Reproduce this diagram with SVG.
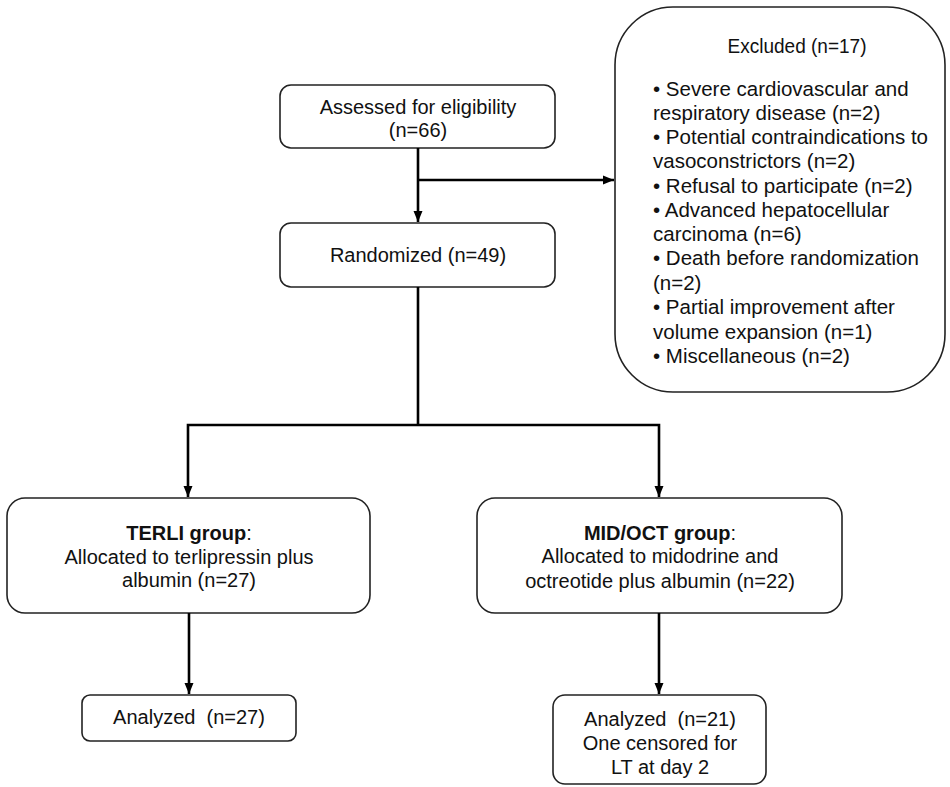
<svg xmlns="http://www.w3.org/2000/svg" width="950" height="787" viewBox="0 0 950 787">
<defs>
<marker id="ah" markerUnits="userSpaceOnUse" markerWidth="12" markerHeight="12" viewBox="0 0 12 12" refX="11" refY="6" orient="auto">
<path d="M0,1.5 L11,6 L0,10.5 Z" fill="#000"/>
</marker>
<style>
.box{fill:#fff;stroke:#222;stroke-width:1.6}
.t{font-family:"Liberation Sans",Arial,sans-serif;font-size:20px;fill:#111;text-anchor:middle;white-space:pre}
.l{font-family:"Liberation Sans",Arial,sans-serif;font-size:20.5px;fill:#111;text-anchor:start}
.b{font-weight:bold}
.c{fill:none;stroke:#000;stroke-width:2.6;stroke-linejoin:miter}
</style>
</defs>
<rect width="950" height="787" fill="#fff"/>
<g id="assessed">
<rect class="box" x="280" y="85" width="275" height="63" rx="11"/>
<text class="t" x="418" y="114">Assessed for eligibility</text>
<text class="t" x="418" y="137">(n=66)</text>
</g>
<g id="randomized">
<rect class="box" x="280" y="223" width="275" height="64" rx="11"/>
<text class="t" x="418" y="262">Randomized (n=49)</text>
</g>
<g id="excluded">
<rect class="box" x="615" y="7" width="330" height="385" rx="58"/>
<text class="t" x="797" y="53" textLength="139" lengthAdjust="spacingAndGlyphs">Excluded (n=17)</text>
<text class="l" x="653" y="96">• Severe cardiovascular and</text>
<text class="l" x="653" y="120">respiratory disease (n=2)</text>
<text class="l" x="653" y="144">• Potential contraindications to</text>
<text class="l" x="653" y="168">vasoconstrictors (n=2)</text>
<text class="l" x="653" y="193">• Refusal to participate (n=2)</text>
<text class="l" x="653" y="217">• Advanced hepatocellular</text>
<text class="l" x="653" y="241">carcinoma (n=6)</text>
<text class="l" x="653" y="265">• Death before randomization</text>
<text class="l" x="653" y="290">(n=2)</text>
<text class="l" x="653" y="314">• Partial improvement after</text>
<text class="l" x="653" y="339">volume expansion (n=1)</text>
<text class="l" x="653" y="363">• Miscellaneous (n=2)</text>
</g>
<g id="terli">
<rect class="box" x="7" y="498" width="363" height="115" rx="18"/>
<text class="t" x="189" y="540"><tspan class="b">TERLI group</tspan>:</text>
<text class="t" x="189" y="564">Allocated to terlipressin plus</text>
<text class="t" x="189" y="587">albumin (n=27)</text>
</g>
<g id="midoct">
<rect class="box" x="477" y="498" width="365" height="115" rx="18"/>
<text class="t" x="660" y="540"><tspan class="b">MID/OCT group</tspan>:</text>
<text class="t" x="660" y="563">Allocated to midodrine and</text>
<text class="t" x="660" y="588">octreotide plus albumin (n=22)</text>
</g>
<g id="analyzed-terli">
<rect class="box" x="82" y="695" width="214" height="46" rx="8"/>
<text class="t" x="189" y="724">Analyzed  (n=27)</text>
</g>
<g id="analyzed-midoct">
<rect class="box" x="553" y="695" width="213" height="89" rx="12"/>
<text class="t" x="660" y="726">Analyzed  (n=21)</text>
<text class="t" x="660" y="750">One censored for</text>
<text class="t" x="660" y="774">LT at day 2</text>
</g>
<g id="connectors">
<line class="c" x1="418" y1="148" x2="418" y2="222" marker-end="url(#ah)"/>
<line class="c" x1="418" y1="180" x2="614" y2="180" marker-end="url(#ah)"/>
<line class="c" x1="418" y1="287" x2="418" y2="425"/>
<path class="c" d="M418,425 H188 V497" marker-end="url(#ah)"/>
<path class="c" d="M418,425 H659 V497" marker-end="url(#ah)"/>
<line class="c" x1="189" y1="613" x2="189" y2="694" marker-end="url(#ah)"/>
<line class="c" x1="659" y1="613" x2="659" y2="694" marker-end="url(#ah)"/>
</g>
</svg>
